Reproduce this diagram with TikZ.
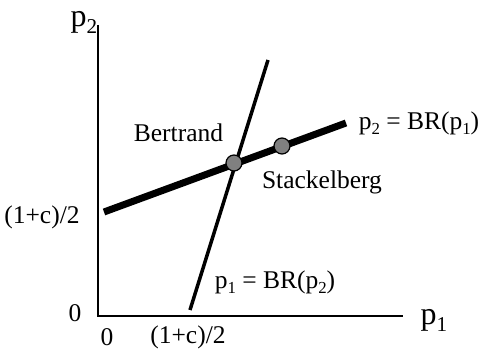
\documentclass[tikz,border=0pt]{standalone}
\usepackage{fontspec}
\setmainfont{Liberation Serif}
\newcommand\mysub[1]{\raisebox{-0.22em}{\scalebox{0.66}{#1}}}
\begin{document}
\begin{tikzpicture}[x=1pt,y=1pt,
  lbl/.style={inner sep=0pt, font=\fontsize{25.5}{28}\selectfont},
  axlbl/.style={inner sep=0pt, font=\fontsize{32}{36}\selectfont},
  axisline/.style={line width=2.5pt},
  brtwo/.style={line width=7pt},
  brone/.style={line width=3.5pt},
  eqdot/.style={circle, draw=black, line width=1.2pt, fill=gray, minimum size=16pt, inner sep=0pt}]
\useasboundingbox (0,0) rectangle (482,350);
% axes
\coordinate (O) at (98,34);
\coordinate (Ytop) at (98,325);
\coordinate (Xend) at (403,34);
\draw[axisline] (Ytop) -- (O) -- (Xend);
% best-response lines
\coordinate (A1) at (104,138);
\coordinate (A2) at (346,227);
\coordinate (C1) at (190,40);
\coordinate (C2) at (268,290);
\draw[brtwo] (A1) -- (A2);
\draw[brone] (C1) -- (C2);
% equilibria
\node[eqdot] (B) at (234,187) {};
\node[eqdot] (S) at (282,204) {};
% labels
\node[axlbl] (ly) at (84,328) {p\mysub{2}};
\node[axlbl] (lx) at (434,30) {p\mysub{1}};
\node[lbl] (lb) at (178.5,217) {Bertrand};
\node[lbl] (ls) at (322,168) {Stackelberg};
\node[lbl] (l2) at (419,227) {p\mysub{2} = BR(p\mysub{1})};
\node[lbl] (l1) at (275,68) {p\mysub{1} = BR(p\mysub{2})};
\node[lbl] (yc) at (42,133) {(1+c)/2};
\node[lbl] (y0) at (75,37) {0};
\node[lbl] (x0) at (107,13) {0};
\node[lbl] (xc) at (188,13) {(1+c)/2};
\end{tikzpicture}
\end{document}
